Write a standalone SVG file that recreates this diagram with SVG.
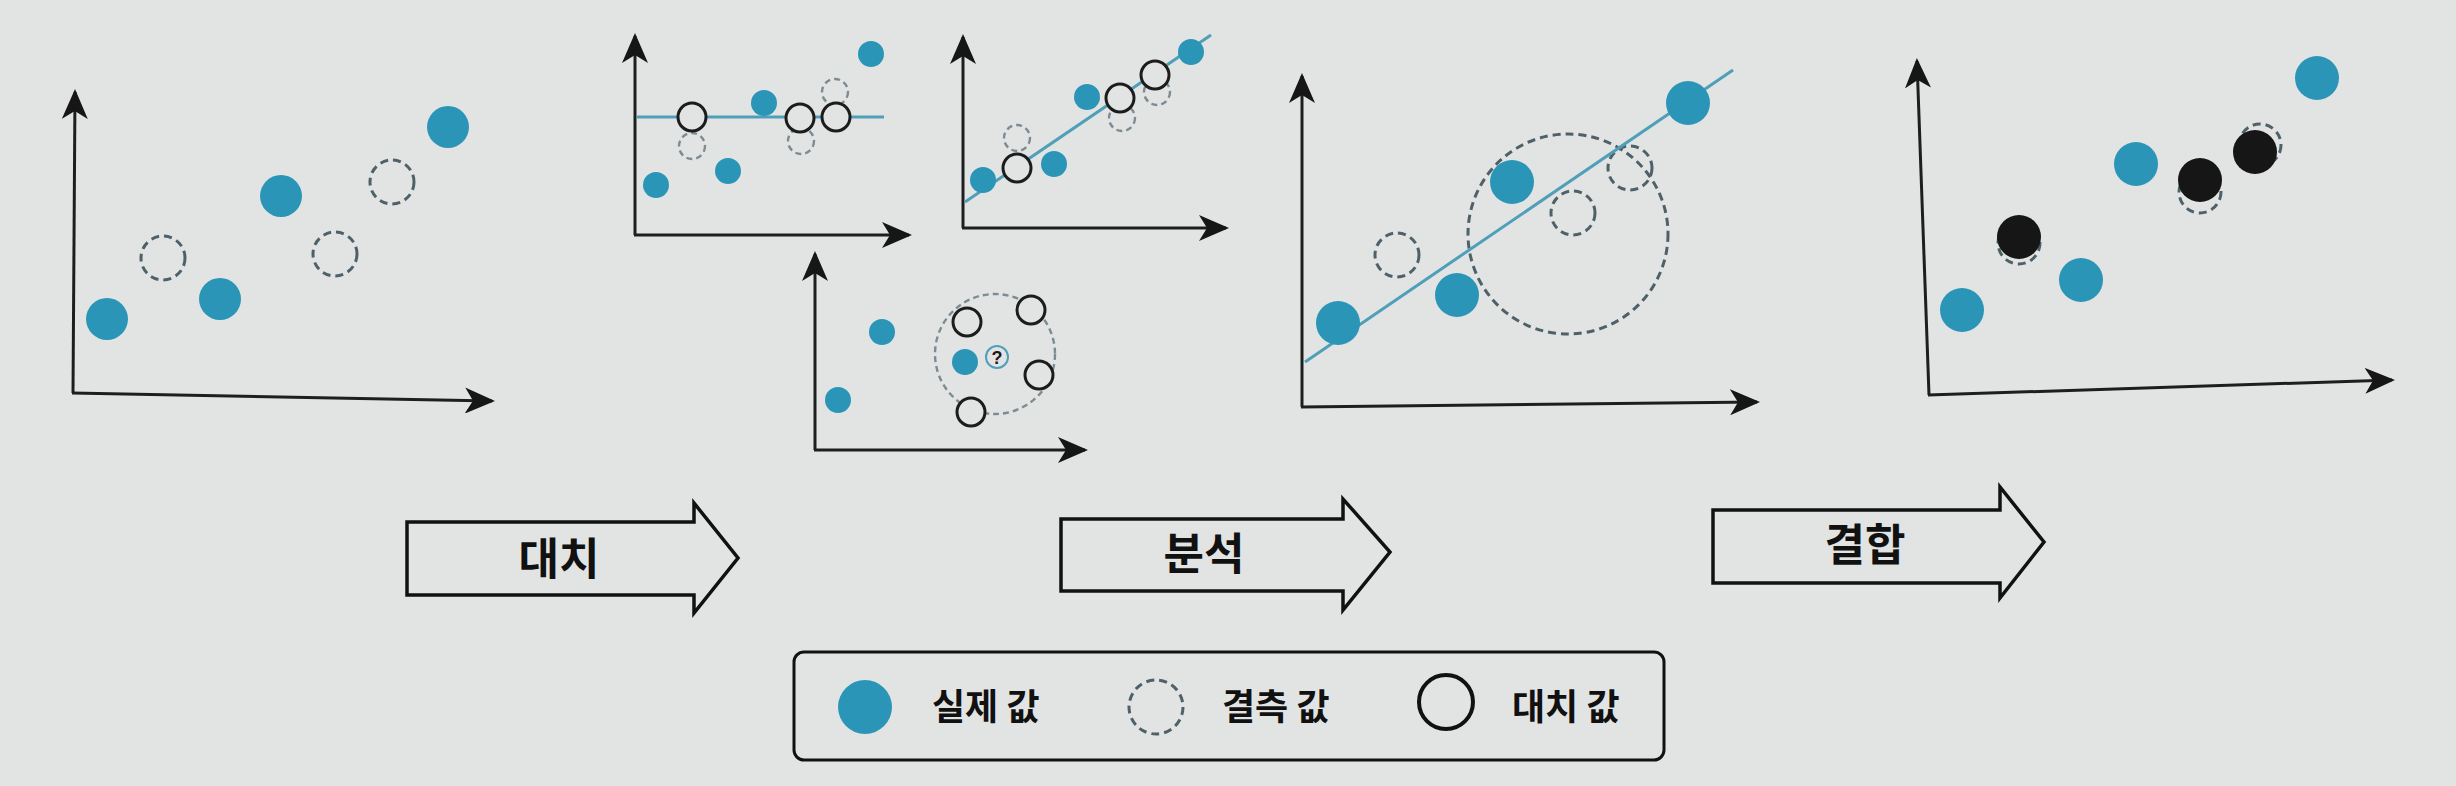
<svg xmlns="http://www.w3.org/2000/svg" width="2456" height="786" viewBox="0 0 2456 786">
<defs>
<marker id="ah" viewBox="0 0 30 26" refX="27" refY="13" markerWidth="30" markerHeight="26" markerUnits="userSpaceOnUse" orient="auto">
<path d="M0,0 L30,13 L0,26 L8,13 z" fill="#161616"/>
</marker>
<style>
.ax{stroke:#1e1e1e;stroke-width:3;fill:none;marker-end:url(#ah)}
.real{fill:#2b95b8}
.miss{fill:none;stroke:#4f6168;stroke-width:3;stroke-dasharray:8 5}
.misss{fill:none;stroke:#7d8c92;stroke-width:2.4;stroke-dasharray:6 4}
.imp{fill:#e2e4e4;stroke:#1c1c1c;stroke-width:3}
.fit{stroke:#4f9fb8;stroke-width:3}
.blk{fill:#161616}
.arrow{fill:#e2e4e4;stroke:#111;stroke-width:3.5;stroke-linejoin:miter}
.lbl{font-family:"Noto Sans CJK KR","Noto Sans",sans-serif;font-weight:bold;fill:#111}
.leg{font-family:"Noto Sans CJK KR","Noto Sans",sans-serif;font-weight:bold;font-size:36px;fill:#111}
</style>
</defs>
<rect x="0" y="0" width="2456" height="786" fill="#e2e4e4"/>

<g id="chart-original">
<line class="ax" x1="73" y1="393" x2="75" y2="92"/>
<line class="ax" x1="72" y1="393" x2="492" y2="401"/>
<circle class="miss" cx="163" cy="258" r="22"/>
<circle class="miss" cx="335" cy="254" r="22"/>
<circle class="miss" cx="392" cy="182" r="22"/>
<circle class="real" cx="107" cy="319" r="21"/>
<circle class="real" cx="220" cy="299" r="21"/>
<circle class="real" cx="281" cy="196" r="21"/>
<circle class="real" cx="448" cy="127" r="21"/>
</g>

<g id="chart-mean-imputation">
<line class="ax" x1="635" y1="235" x2="635" y2="36"/>
<line class="ax" x1="634" y1="235" x2="909" y2="235"/>
<circle class="misss" cx="692" cy="146" r="13"/>
<circle class="misss" cx="801" cy="141" r="13"/>
<circle class="misss" cx="835" cy="92" r="13"/>
<line class="fit" x1="637" y1="117" x2="884" y2="117"/>
<circle class="real" cx="656" cy="185" r="13"/>
<circle class="real" cx="728" cy="171" r="13"/>
<circle class="real" cx="764" cy="103" r="13"/>
<circle class="real" cx="871" cy="54" r="13"/>
<circle class="imp" cx="692" cy="117" r="14"/>
<circle class="imp" cx="800" cy="118" r="14"/>
<circle class="imp" cx="836" cy="117" r="14"/>
</g>

<g id="chart-regression-imputation">
<line class="ax" x1="963" y1="228" x2="963" y2="37"/>
<line class="ax" x1="962" y1="228" x2="1226" y2="228"/>
<circle class="misss" cx="1017" cy="138" r="13"/>
<circle class="misss" cx="1122" cy="118" r="13"/>
<circle class="misss" cx="1157" cy="92" r="13"/>
<line class="fit" x1="965" y1="202" x2="1211" y2="35"/>
<circle class="real" cx="983" cy="180" r="13"/>
<circle class="real" cx="1054" cy="164" r="13"/>
<circle class="real" cx="1087" cy="97" r="13"/>
<circle class="real" cx="1191" cy="52" r="13"/>
<circle class="imp" cx="1017" cy="168" r="14"/>
<circle class="imp" cx="1120" cy="98" r="14"/>
<circle class="imp" cx="1155" cy="75" r="14"/>
</g>

<g id="chart-knn-imputation">
<line class="ax" x1="815" y1="450" x2="815" y2="254"/>
<line class="ax" x1="814" y1="450" x2="1085" y2="450"/>
<circle class="misss" cx="995" cy="354" r="60"/>
<circle class="real" cx="882" cy="332" r="13"/>
<circle class="real" cx="838" cy="400" r="13"/>
<circle class="real" cx="965" cy="362" r="13"/>
<circle cx="997" cy="357" r="11" fill="#e2e4e4" stroke="#4f9fb8" stroke-width="2"/>
<text x="997" y="364" text-anchor="middle" font-family="Liberation Sans, sans-serif" font-weight="bold" font-size="18" fill="#1a1a1a">?</text>
<circle class="imp" cx="967" cy="322" r="14"/>
<circle class="imp" cx="1031" cy="310" r="14"/>
<circle class="imp" cx="1039" cy="375" r="14"/>
<circle class="imp" cx="971" cy="412" r="14"/>
</g>

<g id="chart-analysis">
<line class="ax" x1="1302" y1="407" x2="1302" y2="76"/>
<line class="ax" x1="1301" y1="407" x2="1757" y2="402"/>
<circle class="miss" cx="1568" cy="234" r="100"/>
<circle class="miss" cx="1397" cy="255" r="22"/>
<circle class="miss" cx="1573" cy="213" r="22"/>
<circle class="miss" cx="1630" cy="168" r="22"/>
<line class="fit" x1="1305" y1="362" x2="1733" y2="70"/>
<circle class="real" cx="1338" cy="323" r="22"/>
<circle class="real" cx="1457" cy="295" r="22"/>
<circle class="real" cx="1512" cy="182" r="22"/>
<circle class="real" cx="1688" cy="103" r="22"/>
</g>

<g id="chart-combined">
<line class="ax" x1="1929" y1="395" x2="1917" y2="61"/>
<line class="ax" x1="1928" y1="395" x2="2392" y2="380"/>
<circle class="miss" cx="2019" cy="243" r="21"/>
<circle class="miss" cx="2200" cy="192" r="21"/>
<circle class="miss" cx="2260" cy="145" r="21"/>
<circle class="real" cx="1962" cy="310" r="22"/>
<circle class="real" cx="2081" cy="280" r="22"/>
<circle class="real" cx="2136" cy="164" r="22"/>
<circle class="real" cx="2317" cy="78" r="22"/>
<circle class="blk" cx="2019" cy="237" r="22"/>
<circle class="blk" cx="2200" cy="180" r="22"/>
<circle class="blk" cx="2255" cy="152" r="22"/>
</g>

<g id="connectors">
<g id="step-impute">
<polygon class="arrow" points="407,522 694,522 694,503 738,558 694,613 694,595 407,595"/>
<text class="lbl" x="559" y="575" font-size="44" text-anchor="middle">대치</text>
</g>
<g id="step-analyze">
<polygon class="arrow" points="1061,519 1343,519 1343,499 1390,552 1343,610 1343,591 1061,591"/>
<text class="lbl" x="1204" y="570" font-size="44" text-anchor="middle">분석</text>
</g>
<g id="step-combine">
<polygon class="arrow" points="1713,510 2000,510 2000,487 2044,542 2000,598 2000,583 1713,583"/>
<text class="lbl" x="1865" y="561" font-size="44" text-anchor="middle">결합</text>
</g>
</g>

<g id="legend">
<rect x="794" y="652" width="870" height="108" rx="10" fill="#e2e4e4" stroke="#111" stroke-width="3"/>
<circle class="real" cx="865" cy="707" r="27"/>
<text class="leg" x="932" y="720">실제 값</text>
<circle class="miss" cx="1156" cy="707" r="27"/>
<text class="leg" x="1222" y="720">결측 값</text>
<circle cx="1446" cy="702" r="27" fill="none" stroke="#111" stroke-width="4"/>
<text class="leg" x="1512" y="720">대치 값</text>
</g>
</svg>
